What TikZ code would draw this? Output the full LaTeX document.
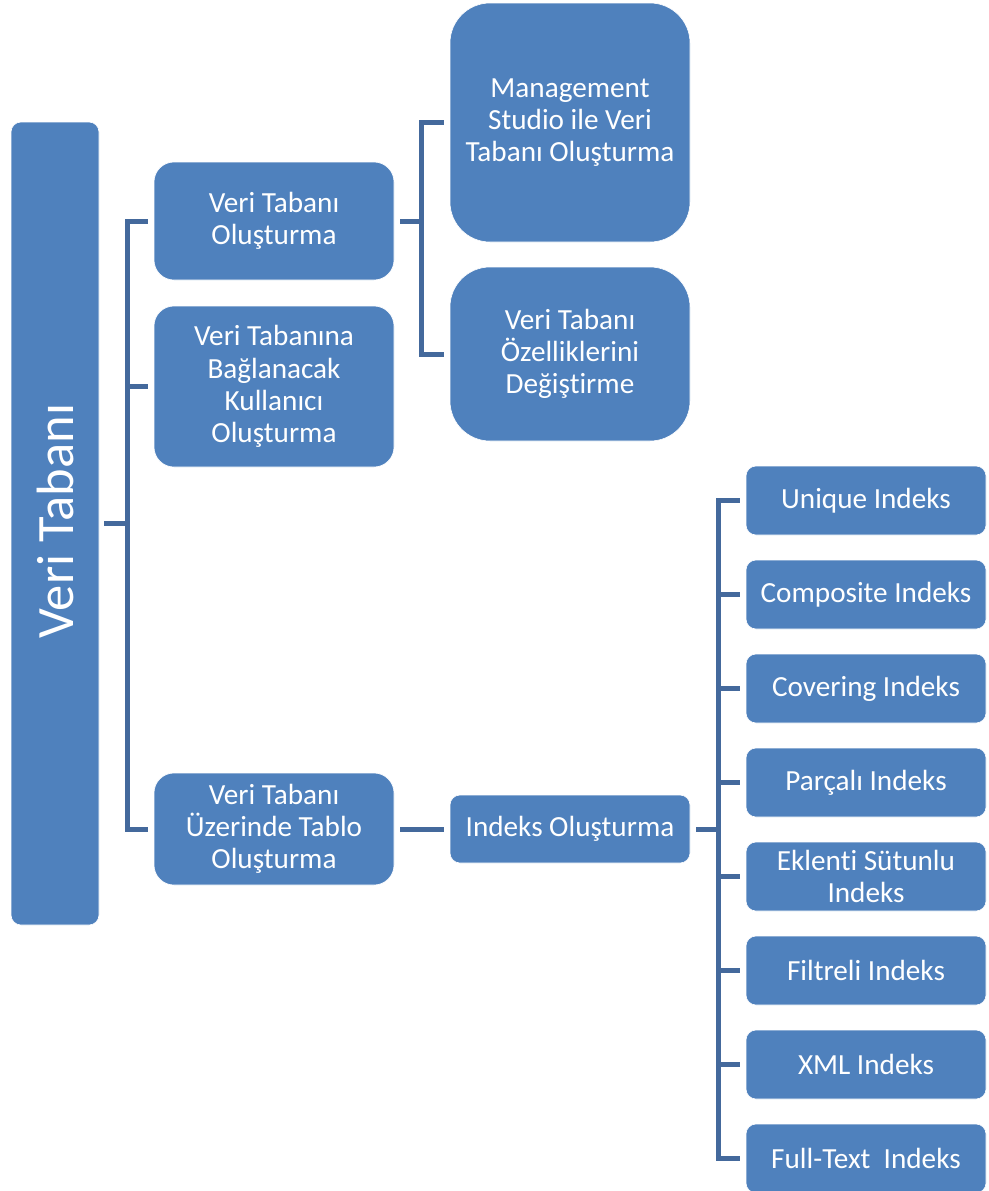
\documentclass[tikz,border=0pt]{standalone}
\usepackage{fontspec}
\setmainfont{Carlito}[Ligatures={NoCommon,NoContextual}]
\begin{document}
\begin{tikzpicture}[x=1pt,y=-1pt,
  box/.style={rectangle, rounded corners=#1, fill=boxblue, draw=white, line width=0.6pt,
    text=white, align=center, inner sep=0pt, font=\fontsize{29.2}{32.3}\selectfont},
  box/.default=18pt,
  conn/.style={draw=connblue, line width=5pt, line join=miter},
]
\definecolor{boxblue}{HTML}{4F81BD}
\definecolor{connblue}{HTML}{44699C}
\useasboundingbox (0,0) rectangle (988,1191);
% root
\node[box=10pt, minimum width=88pt, minimum height=803pt] (root) at (55,523.5) {};
\node[rotate=90, text=white, font=\fontsize{52.5}{58}\selectfont] (roottxt) at (55,521) {Veri Tabanı};
% level 1
\node[box=20pt, minimum width=240pt, minimum height=118pt] (a1) at (274,221) {Veri Tabanı\\Oluşturma};
\node[box=20pt, minimum width=240pt, minimum height=161pt] (a2) at (274,386.5) {Veri Tabanına\\Bağlanacak\\Kullanıcı\\Oluşturma};
\node[box=20pt, minimum width=240pt, minimum height=112pt] (a3) at (274,829) {Veri Tabanı\\Üzerinde Tablo\\Oluşturma};
% level 2
\node[box=40pt, minimum width=240pt, minimum height=239pt] (b1) at (570,122.5) {Management\\Studio ile Veri\\Tabanı Oluşturma};
\node[box=40pt, minimum width=240pt, minimum height=174pt] (b2) at (570,354) {Veri Tabanı\\Özelliklerini\\Değiştirme};
\node[box=10pt, minimum width=240pt, minimum height=68pt] (b3) at (570,829) {Indeks Oluşturma};
% level 3
\node[box=10pt, minimum width=240pt, minimum height=69pt] (c1) at (866,500.5) {Unique Indeks};
\node[box=10pt, minimum width=240pt, minimum height=69pt] (c2) at (866,594.5) {Composite Indeks};
\node[box=10pt, minimum width=240pt, minimum height=69pt] (c3) at (866,688.5) {Covering Indeks};
\node[box=10pt, minimum width=240pt, minimum height=69pt] (c4) at (866,782.5) {Parçalı Indeks};
\node[box=10pt, minimum width=240pt, minimum height=69pt] (c5) at (866,876.5) {Eklenti Sütunlu\\Indeks};
\node[box=10pt, minimum width=240pt, minimum height=69pt] (c6) at (866,970.5) {Filtreli Indeks};
\node[box=10pt, minimum width=240pt, minimum height=69pt] (c7) at (866,1064.5) {XML Indeks};
\node[box=10pt, minimum width=240pt, minimum height=69pt] (c8) at (866,1158.5) {Full-Text\ \ Indeks};
% junctions
\coordinate (rj) at (127,523.5);
\coordinate (aj) at (421,221);
\coordinate (bj) at (718,829);
% connectors
\draw[conn] ([xshift=5pt]root.east) -- (rj);
\draw[conn] ([xshift=-6pt]a1.west) -| (rj);
\draw[conn] ([xshift=-6pt]a2.west) -| (rj);
\draw[conn] ([xshift=-6pt]a3.west) -| (rj);
\draw[conn] ([xshift=6pt]a1.east) -- (aj);
\draw[conn] ([xshift=-6pt]b1.west) -| (aj);
\draw[conn] ([xshift=-6pt]b2.west) -| (aj);
\draw[conn] ([xshift=6pt]a3.east) -- ([xshift=-6pt]b3.west);
\draw[conn] ([xshift=6pt]b3.east) -- (bj);
\foreach \i in {1,...,8} {
  \draw[conn] ([xshift=-6pt]c\i.west) -| (bj);
}
\end{tikzpicture}
\end{document}
